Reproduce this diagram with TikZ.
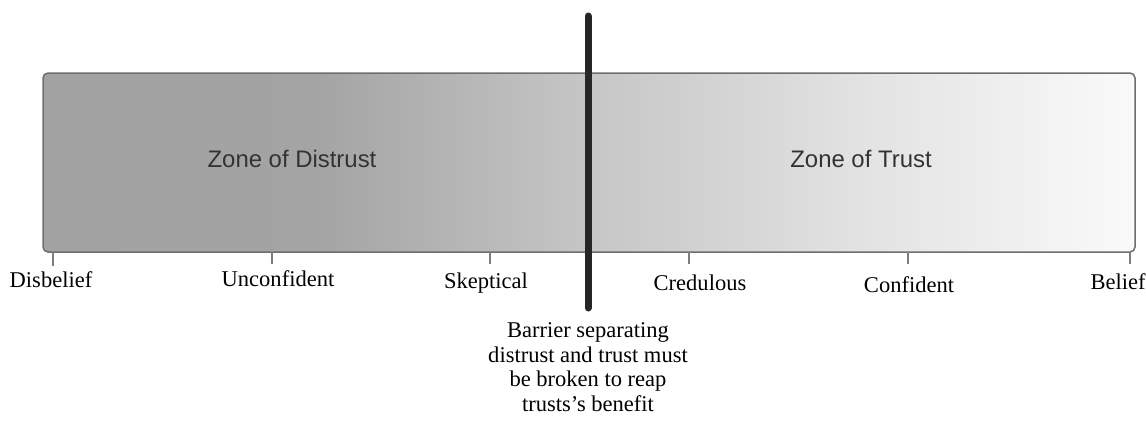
\documentclass[tikz,border=0pt]{standalone}
\usepackage{fontspec}
\setmainfont{Liberation Serif}
\newfontfamily\zonefont{Liberation Sans}
\definecolor{zonedark}{HTML}{A2A2A2}
\definecolor{zonemid}{HTML}{C6C6C6}
\definecolor{zonelight}{HTML}{FAFAFA}
\definecolor{zoneframe}{HTML}{6E6E6E}
\definecolor{zonetext}{HTML}{333333}
\definecolor{barrier}{HTML}{262626}
\pgfdeclarehorizontalshading{zoneshade}{100bp}{%
  color(0bp)=(zonedark); color(25bp)=(zonedark); color(37.5bp)=(zonedark!95!zonemid);
  color(50bp)=(zonemid); color(62.5bp)=(zonemid!45!zonelight);
  color(75bp)=(zonelight); color(100bp)=(zonelight)}
\tikzset{
  zonelabel/.style={font=\zonefont\fontsize{24}{28}\selectfont, text=zonetext},
  scalelabel/.style={font=\fontsize{22.6}{25}\selectfont, anchor=base, inner sep=0pt},
  tick/.style={draw=zoneframe!90, line width=1.2bp}
}
\begin{document}
\begin{tikzpicture}[x=1bp, y=-1bp]
		\useasboundingbox ( 0, 0 ) rectangle ( 1146, 421 );

		% zones
		\shade [shading=zoneshade, rounded corners=5bp] ( 43, 73 ) rectangle ( 1135, 252 );
		\draw [draw=zoneframe, line width=1.5bp, rounded corners=5bp] ( 43, 73 ) rectangle ( 1135, 252 );
		\node [zonelabel] (distrust) at ( 292, 159 ) {Zone of Distrust};
		\node [zonelabel] (trust) at ( 861, 159 ) {Zone of Trust};

		% scale
		\coordinate (t1) at ( 53, 252 );
		\coordinate (t2) at ( 272, 252 );
		\coordinate (t3) at ( 490, 252 );
		\coordinate (t4) at ( 689, 252 );
		\coordinate (t5) at ( 908, 252 );
		\coordinate (t6) at ( 1130, 252 );
		\coordinate (b1) at ( 53, 266 );
		\coordinate (b2) at ( 272, 264 );
		\coordinate (b3) at ( 490, 264 );
		\coordinate (b4) at ( 689, 264 );
		\coordinate (b5) at ( 908, 264 );
		\coordinate (b6) at ( 1130, 264 );
		\draw [tick] (t1) -- (b1);
		\draw [tick] (t2) -- (b2);
		\draw [tick] (t3) -- (b3);
		\draw [tick] (t4) -- (b4);
		\draw [tick] (t5) -- (b5);
		\draw [tick] (t6) -- (b6);
		\node [scalelabel] (disbelief) at ( 51, 287 ) {Disbelief};
		\node [scalelabel] (unconfident) at ( 278, 286 ) {Unconfident};
		\node [scalelabel] (skeptical) at ( 486, 288 ) {Skeptical};
		\node [scalelabel] (credulous) at ( 700, 290 ) {Credulous};
		\node [scalelabel] (confident) at ( 909, 292 ) {Confident};
		\node [scalelabel] (belief) at ( 1118, 289 ) {Belief};

		% barrier
		\coordinate (bartop) at ( 588, 16 );
		\coordinate (barbot) at ( 588, 308 );
		\draw [barrier, line width=7bp, line cap=round] (bartop) -- (barbot);
		\node [scalelabel, anchor=north, align=center, text depth=0pt] (note) at ( 588, 322 )
			{Barrier separating\\distrust and trust must\\be broken to reap\\trusts’s benefit};
	\end{tikzpicture}
\end{document}
